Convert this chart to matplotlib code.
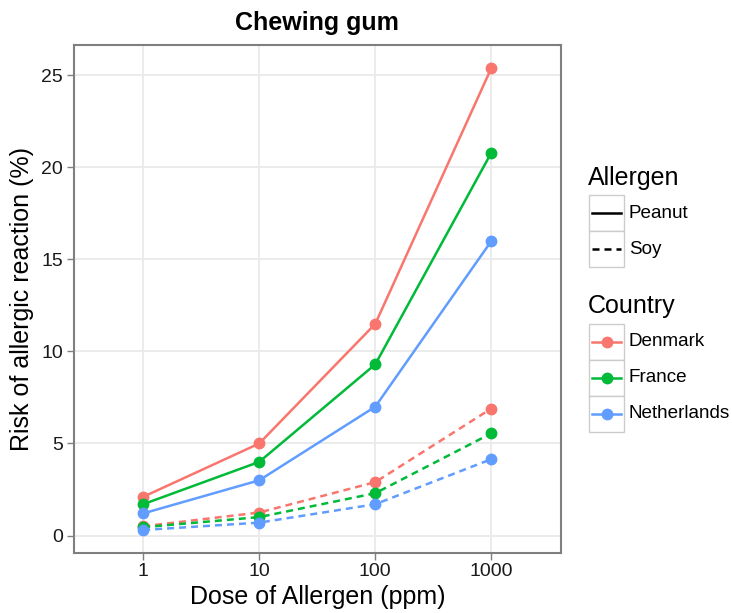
import matplotlib
matplotlib.use("Agg")
from matplotlib import pyplot as plt
from matplotlib.patches import Rectangle

plt.rcParams['font.family'] = ['Liberation Sans', 'DejaVu Sans']

doses = ['1', '10', '100', '1000']
countries = ['Denmark', 'France', 'Netherlands']
colors = ['#F8766D', '#00BA38', '#619CFF']

peanut = {
    'Denmark': [2.1, 5.0, 11.5, 25.4],
    'France': [1.7, 4.0, 9.3, 20.8],
    'Netherlands': [1.2, 3.0, 7.0, 16.0],
}
soy = {
    'Denmark': [0.5, 1.25, 2.9, 6.9],
    'France': [0.45, 1.0, 2.3, 5.55],
    'Netherlands': [0.3, 0.7, 1.7, 4.15],
}

W, H = 732, 613
fig = plt.figure(figsize=(W / 100, H / 100), dpi=100)
ax = fig.add_axes([73.5 / W, 1 - 553 / H, (561 - 73.5) / W, (553 - 45) / H])

dash = (0, (2.8, 2.0))
for c, col in zip(countries, colors):
    ax.plot(doses, peanut[c], color=col, lw=1.8, marker='o', ms=7.5, zorder=3)
    ax.plot(doses, soy[c], color=col, lw=1.8, ls=dash, marker='o', ms=7.5, zorder=3)

ax.set_xlim(-0.6, 3.6)
ax.set_ylim(-0.95, 26.65)
ax.set_yticks([0, 5, 10, 15, 20, 25])
ax.grid(True, color='#EBEBEB', lw=1.4, zorder=0)
ax.set_axisbelow(True)
for s in ax.spines.values():
    s.set_color('#7F7F7F')
    s.set_linewidth(1.5)
ax.tick_params(length=5, width=1, color='#7F7F7F', labelsize=14,
               labelcolor='#1a1a1a', pad=2.5)
ax.set_xlabel('Dose of Allergen (ppm)', fontsize=18, labelpad=3)
ax.set_ylabel('Risk of allergic reaction (%)', fontsize=18, labelpad=5)
ax.set_title('Chewing gum', fontsize=18, fontweight='bold', pad=11)

# legends drawn in pixel coordinates
lg = fig.add_axes([0, 0, 1, 1])
lg.set_xlim(0, W)
lg.set_ylim(H, 0)
lg.axis('off')

def key_box(y0):
    lg.add_patch(Rectangle((589, y0), 35, 36, fc='white', ec='#CCCCCC', lw=1))

lg.text(588, 178, 'Allergen', fontsize=18, va='center', ha='left')
for i, (lab, ls) in enumerate([('Peanut', '-'), ('Soy', dash)]):
    y0 = 195 + i * 36
    key_box(y0)
    lg.plot([592, 621], [y0 + 18, y0 + 18], color='black', lw=1.8, ls=ls)
    lg.text(629, y0 + 18, lab, fontsize=13.6, va='center', ha='left')

lg.text(588, 306, 'Country', fontsize=18, va='center', ha='left')
for i, (c, col) in enumerate(zip(countries, colors)):
    y0 = 324 + i * 36
    key_box(y0)
    lg.plot([592, 621], [y0 + 18, y0 + 18], color=col, lw=1.8)
    lg.plot([606.5], [y0 + 18], color=col, marker='o', ms=7.5)
    lg.text(629, y0 + 18, c, fontsize=13.6, va='center', ha='left')

fig.savefig('out.png', dpi=100)
